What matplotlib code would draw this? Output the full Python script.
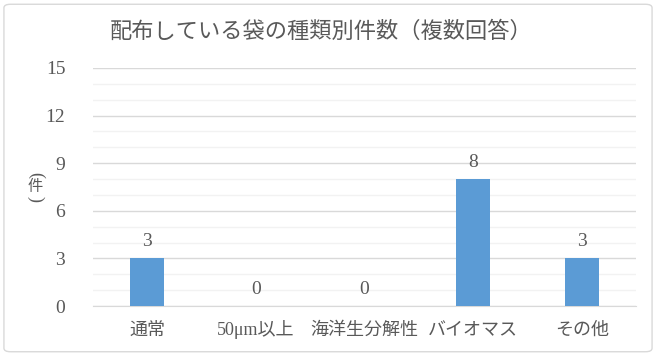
import matplotlib
matplotlib.use("Agg")
import matplotlib.pyplot as plt
from matplotlib.patches import FancyBboxPatch

# Data
categories = ["通常", "50μm以上", "海洋生分解性", "バイオマス", "その他"]
counts = [3, 0, 0, 8, 3]
yticks = [0, 3, 6, 9, 12, 15]
title = "配布している袋の種類別件数（複数回答）"

plt.rcParams["font.family"] = ["Liberation Serif", "Noto Sans CJK JP"]
text_c = "#595959"
bar_c = "#5B9BD5"

fig = plt.figure(figsize=(6.56, 3.56), dpi=100)
ax = fig.add_axes([0.1418, 0.1404, 0.8277, 0.6686])

x = list(range(len(categories)))
ax.bar(x, counts, width=0.31, color=bar_c, zorder=3)
for xi, v in zip(x, counts):
    ax.text(xi, v + 0.5, str(v), ha="center", va="bottom", fontsize=14, color=text_c)

ax.set_xlim(-0.5, len(categories) - 0.5)
ax.set_ylim(0, 15)
ax.set_yticks(yticks)
ax.set_yticks(range(0, 16), minor=True)
ax.grid(axis="y", which="minor", color="#F2F2F2", linewidth=1, zorder=0)
ax.grid(axis="y", which="major", color="#D9D9D9", linewidth=1, zorder=1)
ax.set_xticks(x)
ax.set_xticklabels(categories, fontsize=13)
ax.tick_params(axis="both", which="both", length=0, colors=text_c)
ax.tick_params(axis="y", labelsize=14, pad=20)
ax.tick_params(axis="x", pad=21)
for lab in ax.get_xticklabels():
    lab.set_va("baseline")
for s in ["top", "right", "left"]:
    ax.spines[s].set_visible(False)
ax.spines["bottom"].set_color("#D9D9D9")

# vertical axis label (件), written top to bottom
ly = 0.475
fig.text(0.054, ly + 0.034, "(", rotation=-90, ha="center", va="center", fontsize=13,
         color=text_c)
fig.text(0.054, ly, "件", ha="center", va="center", fontsize=11,
         color=text_c, family=["Noto Sans CJK JP"])
fig.text(0.054, ly - 0.034, ")", rotation=-90, ha="center", va="center", fontsize=13,
         color=text_c)

fig.text(0.49, 0.91, title, ha="center", va="center", fontsize=16, color=text_c)

# chart border
border = FancyBboxPatch((0.006, 0.012), 0.988, 0.976, boxstyle="round,pad=0,rounding_size=0.01",
                        transform=fig.transFigure, facecolor="none", edgecolor="#D9D9D9", linewidth=1)
fig.patches.append(border)

fig.savefig("out.png", dpi=100)
